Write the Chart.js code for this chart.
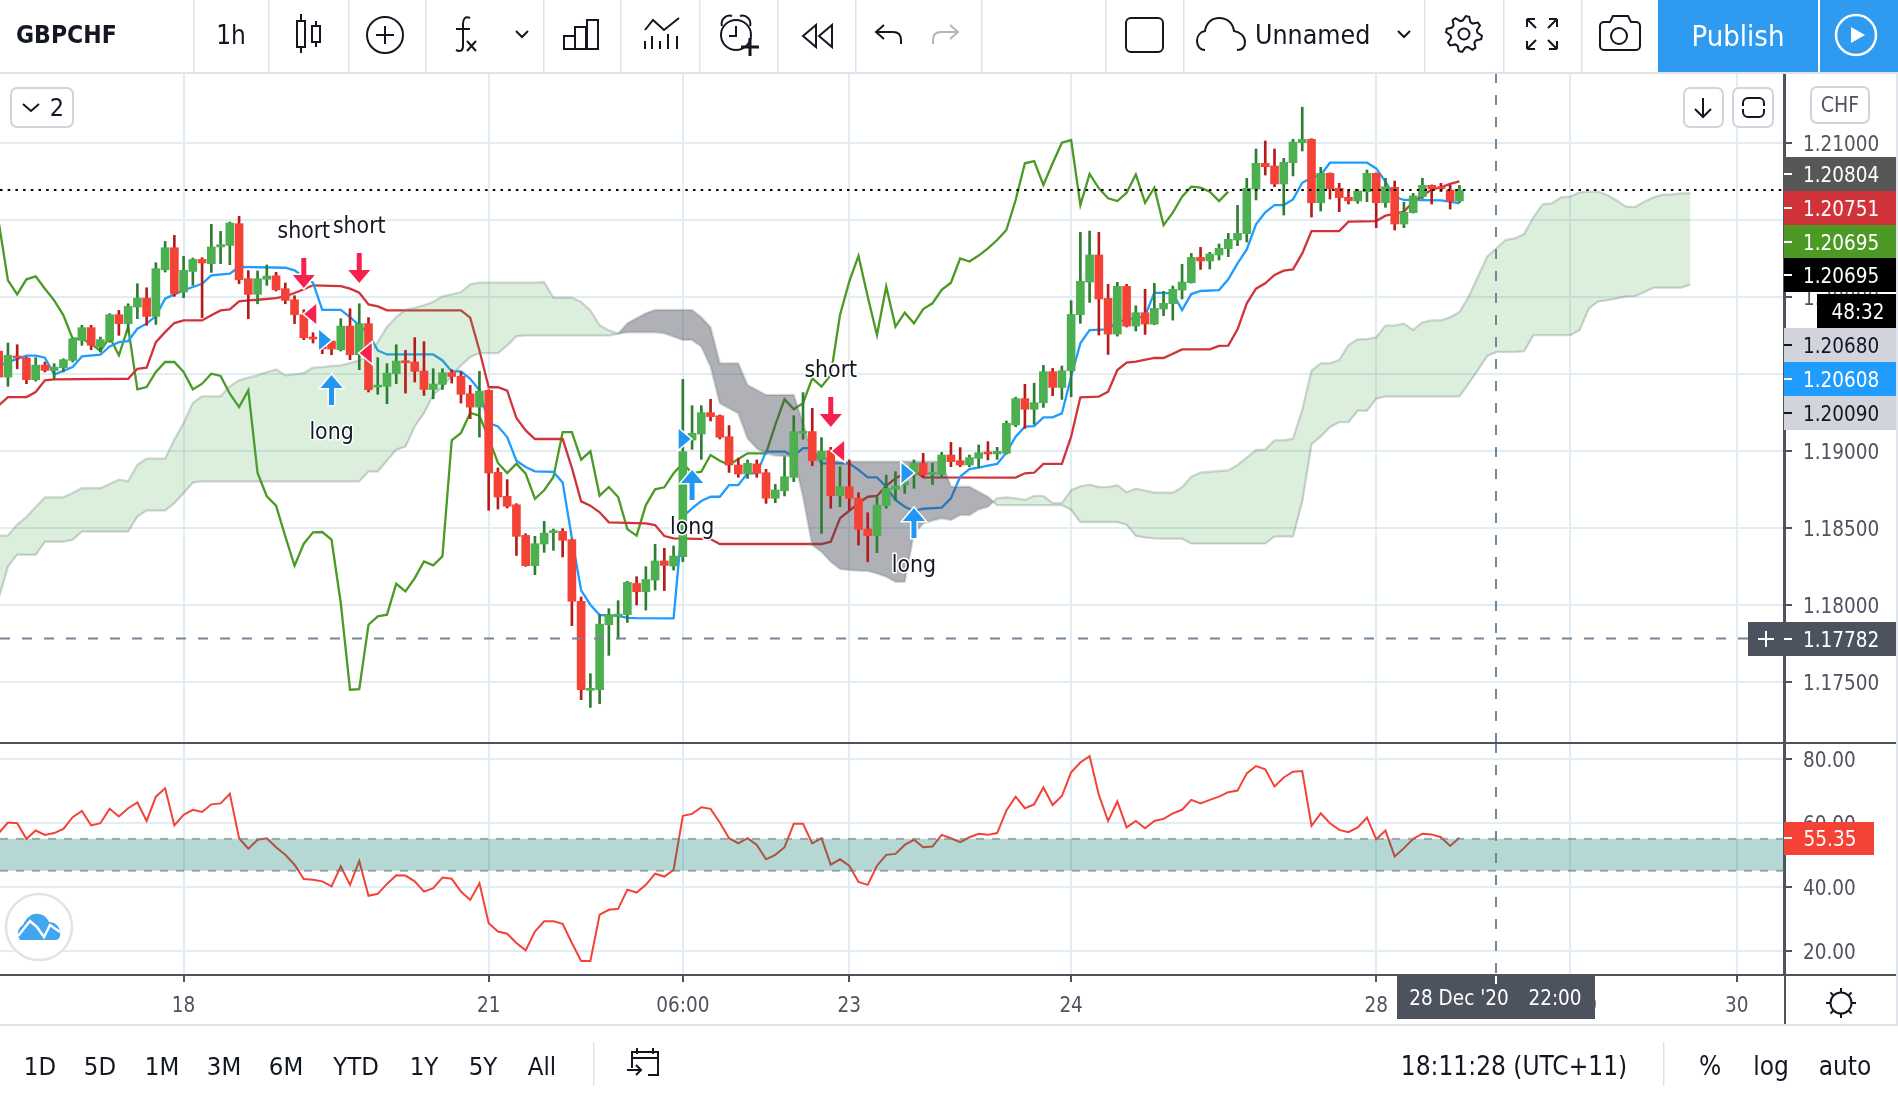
<!DOCTYPE html>
<html>
<head>
<meta charset="utf-8">
<title>GBPCHF</title>
<script src="https://cdn.jsdelivr.net/npm/chart.js@4/dist/chart.umd.js"></script>
<style>
  html, body { margin: 0; background: #fff; overflow: hidden; }
  canvas { position: absolute; left: 0; }
  #priceChart { top: 73px; }
  #rsiChart { top: 743px; }
  #overlay { position: absolute; left: 0; top: 0; pointer-events: none; font-family: "DejaVu Sans Condensed", "DejaVu Sans", sans-serif; }
</style>
</head>
<body>
<canvas id="priceChart" width="1898" height="670"></canvas>
<canvas id="rsiChart" width="1898" height="281"></canvas>
<svg id="overlay" width="1898" height="1100" xmlns="http://www.w3.org/2000/svg"></svg>
<script>
//setup - one hourly candle per bar index, i = 0 is the first bar on the left
const opens = [
  1.19649,1.19480,1.19614,1.19604,1.19463,1.19558,1.19523,1.19541,1.19588,1.19718,
  1.19801,1.19675,1.19718,1.19885,1.19827,1.19935,1.19993,1.19874,1.20177,1.20320,
  1.20032,1.20166,1.20244,1.20216,1.20325,1.20335,1.20476,1.20119,1.20017,1.20115,
  1.20138,1.20054,1.19982,1.19885,1.19740,1.19707,1.19714,1.19658,1.19811,1.19625,
  1.19827,1.19415,1.19420,1.19502,1.19584,1.19578,1.19519,1.19400,1.19433,1.19508,
  1.19486,1.19372,1.19285,1.19394,1.18861,1.18706,1.18651,1.18452,1.18255,1.18396,
  1.18470,1.18478,1.18424,1.18024,1.17446,1.17450,1.17872,1.17926,1.17937,1.18140,
  1.18086,1.18162,1.18286,1.18253,1.18314,1.19071,1.19110,1.19249,1.19229,1.19093,
  1.18909,1.18851,1.18916,1.18859,1.18693,1.18742,1.18829,1.19115,1.19126,1.18942,
  1.19002,1.18710,1.18768,1.18693,1.18493,1.18450,1.18645,1.18751,1.18779,1.18844,
  1.18920,1.18848,1.18848,1.18974,1.18937,1.18909,1.18952,1.18991,1.18981,1.18985,
  1.19169,1.19340,1.19271,1.19313,1.19515,1.19413,1.19521,1.19885,1.20097,1.20273,
  1.19991,1.19759,1.20069,1.19811,1.19898,1.19824,1.19922,1.19957,1.20045,1.20093,
  1.20257,1.20234,1.20273,1.20314,1.20370,1.20411,1.20701,1.20868,1.20851,1.20734,
  1.20872,1.21002,1.21024,1.20612,1.20803,1.20706,1.20647,1.20623,1.20684,1.20803,
  1.20612,1.20712,1.20474,1.20548,1.20651,1.20725,1.20712,1.20695,1.20623
];
const highs = [
  1.19697,1.19701,1.19690,1.19610,1.19606,1.19578,1.19567,1.19599,1.19733,1.19816,
  1.19816,1.19740,1.19892,1.19913,1.19956,1.20086,1.20060,1.20223,1.20361,1.20400,
  1.20264,1.20253,1.20255,1.20472,1.20426,1.20487,1.20524,1.20171,1.20169,1.20208,
  1.20160,1.20091,1.20008,1.19917,1.19768,1.19729,1.19723,1.19859,1.19924,1.19956,
  1.19866,1.19606,1.19567,1.19690,1.19653,1.19736,1.19710,1.19534,1.19534,1.19528,
  1.19513,1.19426,1.19517,1.19398,1.18890,1.18814,1.18658,1.18463,1.18446,1.18543,
  1.18493,1.18496,1.18428,1.18052,1.17554,1.17937,1.17976,1.18028,1.18153,1.18184,
  1.18249,1.18394,1.18368,1.18383,1.19465,1.19294,1.19294,1.19336,1.19234,1.19165,
  1.18952,1.18942,1.18942,1.18881,1.18783,1.18963,1.19229,1.19379,1.19277,1.19087,
  1.19024,1.18898,1.18942,1.18729,1.18599,1.18703,1.18844,1.18866,1.18877,1.18942,
  1.18985,1.18920,1.18991,1.19056,1.19022,1.18974,1.19039,1.19061,1.19024,1.19195,
  1.19349,1.19433,1.19440,1.19556,1.19536,1.19552,1.19976,1.20420,1.20428,1.20420,
  1.20082,1.20095,1.20082,1.19943,1.20050,1.20089,1.20037,1.20071,1.20212,1.20283,
  1.20322,1.20290,1.20344,1.20413,1.20595,1.20771,1.20961,1.21013,1.20961,1.20900,
  1.21024,1.21232,1.21028,1.20842,1.20806,1.20738,1.20690,1.20699,1.20825,1.20806,
  1.20771,1.20753,1.20615,1.20673,1.20771,1.20728,1.20738,1.20725,1.20725
];
const lows = [
  1.19469,1.19420,1.19534,1.19437,1.19454,1.19513,1.19469,1.19513,1.19578,1.19686,
  1.19658,1.19643,1.19707,1.19751,1.19772,1.19859,1.19816,1.19822,1.20162,1.20004,
  1.19995,1.20076,1.19866,1.20160,1.20216,1.20210,1.20086,1.19859,1.19956,1.20076,
  1.20039,1.19956,1.19827,1.19723,1.19701,1.19632,1.19625,1.19649,1.19593,1.19528,
  1.19383,1.19368,1.19307,1.19437,1.19376,1.19448,1.19361,1.19339,1.19400,1.19441,
  1.19311,1.19210,1.19090,1.18615,1.18623,1.18630,1.18322,1.18251,1.18197,1.18342,
  1.18355,1.18312,1.17866,1.17385,1.17335,1.17359,1.17673,1.17779,1.17887,1.18000,
  1.17967,1.18097,1.18093,1.18227,1.18281,1.19011,1.18946,1.19195,1.19078,1.18861,
  1.18829,1.18822,1.18829,1.18660,1.18664,1.18708,1.18801,1.19076,1.18905,1.18465,
  1.18628,1.18638,1.18617,1.18389,1.18281,1.18340,1.18628,1.18682,1.18725,1.18758,
  1.18829,1.18783,1.18829,1.18898,1.18898,1.18898,1.18894,1.18942,1.18946,1.18980,
  1.19158,1.19147,1.19173,1.19283,1.19359,1.19335,1.19352,1.19829,1.19965,1.19753,
  1.19627,1.19746,1.19805,1.19779,1.19757,1.19820,1.19879,1.19850,1.19987,1.20090,
  1.20179,1.20182,1.20240,1.20262,1.20333,1.20357,1.20630,1.20792,1.20716,1.20532,
  1.20786,1.20948,1.20519,1.20558,1.20636,1.20554,1.20604,1.20608,1.20619,1.20450,
  1.20582,1.20435,1.20450,1.20545,1.20640,1.20604,1.20684,1.20571,1.20612
];
const closes = [
  1.19480,1.19621,1.19604,1.19463,1.19558,1.19523,1.19545,1.19593,1.19729,1.19801,
  1.19686,1.19723,1.19885,1.19827,1.19939,1.19993,1.19874,1.20184,1.20320,1.20021,
  1.20173,1.20244,1.20221,1.20325,1.20340,1.20480,1.20112,1.20017,1.20119,1.20136,
  1.20047,1.19978,1.19885,1.19736,1.19727,1.19664,1.19662,1.19811,1.19625,1.19827,
  1.19398,1.19426,1.19506,1.19584,1.19573,1.19517,1.19400,1.19435,1.19508,1.19484,
  1.19368,1.19285,1.19389,1.18857,1.18701,1.18641,1.18446,1.18255,1.18398,1.18467,
  1.18478,1.18420,1.18024,1.17450,1.17459,1.17876,1.17937,1.17941,1.18147,1.18086,
  1.18166,1.18286,1.18257,1.18318,1.18996,1.19115,1.19249,1.19223,1.19089,1.18909,
  1.18851,1.18920,1.18855,1.18693,1.18747,1.18833,1.19126,1.19126,1.18937,1.19000,
  1.18710,1.18768,1.18693,1.18491,1.18450,1.18649,1.18758,1.18773,1.18801,1.18920,
  1.18844,1.18859,1.18974,1.18931,1.18909,1.18957,1.18989,1.18981,1.18998,1.19180,
  1.19340,1.19271,1.19314,1.19515,1.19413,1.19521,1.19887,1.20102,1.20273,1.19987,
  1.19759,1.20069,1.19811,1.19898,1.19824,1.19926,1.19959,1.20050,1.20097,1.20257,
  1.20234,1.20279,1.20316,1.20374,1.20413,1.20706,1.20868,1.20846,1.20734,1.20874,
  1.21006,1.21024,1.20612,1.20803,1.20703,1.20645,1.20625,1.20688,1.20803,1.20612,
  1.20716,1.20474,1.20550,1.20656,1.20725,1.20703,1.20703,1.20623,1.20695
];

// conversion line, corners only
const conversionBars = [0,3,4,5,6,8,9,11,12,13,14,15,16,17,18,19,20,21,22,23,25,26,31,32,33,34,35,37,38,39,40,41,42,47,48,49,50,51,52,53,54,55,56,57,58,60,61,62,63,64,65,67,68,69,73,74,75,76,77,78,79,80,81,82,83,85,86,87,88,89,92,93,94,95,96,97,98,99,100,102,103,104,105,106,107,108,109,110,111,112,113,114,115,116,117,118,120,121,124,125,127,128,129,130,132,133,134,135,136,137,138,139,140,141,142,143,144,148,149,150,151,152,156,157,158];
const conversionLine = [1.19556,1.19619,1.19619,1.19606,1.19497,1.19545,1.19614,1.19625,1.19679,1.19707,1.19714,1.19794,1.19827,1.19876,1.19989,1.20017,1.20043,1.20065,1.20086,1.20140,1.20151,1.20195,1.20190,1.20173,1.20130,1.20093,1.19917,1.19917,1.19870,1.19816,1.19762,1.19653,1.19627,1.19627,1.19588,1.19517,1.19517,1.19469,1.19394,1.19182,1.19160,1.19091,1.18937,1.18896,1.18868,1.18864,1.18796,1.18435,1.18095,1.18002,1.17935,1.17930,1.17917,1.17915,1.17913,1.18573,1.18628,1.18675,1.18703,1.18703,1.18779,1.18779,1.18855,1.18855,1.18996,1.18996,1.18968,1.19019,1.19019,1.18920,1.18920,1.18877,1.18829,1.18829,1.18768,1.18682,1.18638,1.18612,1.18625,1.18632,1.18693,1.18833,1.18883,1.18892,1.18905,1.18916,1.18989,1.19093,1.19158,1.19162,1.19218,1.19218,1.19244,1.19482,1.19699,1.19785,1.19790,1.19840,1.19876,1.20028,1.20024,1.19915,1.20019,1.20039,1.20045,1.20115,1.20218,1.20309,1.20472,1.20550,1.20597,1.20597,1.20634,1.20742,1.20775,1.20792,1.20872,1.20872,1.20835,1.20749,1.20651,1.20630,1.20628,1.20619,1.20608];

// base line, corners only
const baseBars = [0,1,3,4,5,6,14,15,16,17,18,19,20,22,23,24,25,26,27,28,30,31,32,33,34,37,38,39,40,41,42,50,51,52,53,54,55,56,57,58,61,62,63,64,65,66,70,71,72,73,77,78,89,90,91,92,93,94,95,96,97,98,99,100,110,111,112,113,115,116,117,119,120,121,122,123,125,126,128,131,132,133,134,135,136,137,138,139,140,141,142,145,146,149,150,151,152,153,154,155,156,157,158];
const baseLine = [1.19296,1.19350,1.19350,1.19383,1.19459,1.19465,1.19469,1.19534,1.19541,1.19707,1.19772,1.19831,1.19848,1.19848,1.19881,1.19913,1.19920,1.19972,1.19978,1.19982,1.19993,1.20004,1.20026,1.20050,1.20076,1.20071,1.20054,1.20028,1.19952,1.19939,1.19913,1.19913,1.19866,1.19653,1.19414,1.19414,1.19392,1.19214,1.19134,1.19078,1.19078,1.18890,1.18673,1.18645,1.18602,1.18537,1.18530,1.18519,1.18448,1.18433,1.18428,1.18396,1.18396,1.18411,1.18563,1.18612,1.18660,1.18703,1.18708,1.18773,1.18822,1.18855,1.18877,1.18829,1.18827,1.18855,1.18859,1.18916,1.18916,1.19093,1.19349,1.19353,1.19385,1.19526,1.19574,1.19580,1.19604,1.19604,1.19660,1.19660,1.19682,1.19684,1.19790,1.19959,1.20054,1.20089,1.20143,1.20171,1.20179,1.20283,1.20428,1.20428,1.20489,1.20493,1.20528,1.20539,1.20554,1.20619,1.20656,1.20699,1.20712,1.20734,1.20751];

// lagging line, bars 0 to 133
const laggingLine = [
  1.20487,1.20108,1.20017,1.20115,1.20134,1.20054,1.19978,1.19881,1.19729,1.19729,
  1.19697,1.19649,1.19740,1.19621,1.19805,1.19400,1.19415,1.19513,1.19578,1.19578,
  1.19513,1.19400,1.19437,1.19502,1.19487,1.19372,1.19285,1.19394,1.18857,1.18706,
  1.18645,1.18446,1.18255,1.18398,1.18472,1.18474,1.18424,1.18013,1.17450,1.17454,
  1.17872,1.17926,1.17937,1.18138,1.18089,1.18175,1.18283,1.18257,1.18316,1.19069,
  1.19117,1.19247,1.19229,1.19084,1.18922,1.18857,1.18918,1.18853,1.18690,1.18745,
  1.18831,1.19123,1.19123,1.18944,1.18998,1.18710,1.18766,1.18701,1.18493,1.18450,
  1.18649,1.18751,1.18764,1.18855,1.18920,1.18855,1.18866,1.18974,1.18937,1.18909,
  1.18948,1.18985,1.18985,1.18985,1.19169,1.19336,1.19271,1.19310,1.19472,1.19418,
  1.19494,1.19883,1.20100,1.20267,1.20002,1.19753,1.20067,1.19808,1.19898,1.19829,
  1.19922,1.19959,1.20046,1.20093,1.20251,1.20230,1.20269,1.20316,1.20370,1.20435,
  1.20630,1.20868,1.20883,1.20727,1.20868,1.21002,1.21019,1.20597,1.20799,1.20706,
  1.20641,1.20623,1.20677,1.20796,1.20612,1.20710,1.20467,1.20548,1.20651,1.20716,
  1.20710,1.20684,1.20623,1.20684
];

// leading spans, bars 0 to 183
const spanA = [
  1.18450,1.18450,1.18522,1.18571,1.18636,1.18699,1.18699,1.18699,1.18727,1.18758,
  1.18758,1.18758,1.18786,1.18814,1.18803,1.18911,1.18950,1.18950,1.18950,1.19074,
  1.19182,1.19312,1.19355,1.19355,1.19355,1.19420,1.19459,1.19476,1.19491,1.19513,
  1.19530,1.19491,1.19497,1.19506,1.19541,1.19545,1.19552,1.19556,1.19571,1.19588,
  1.19621,1.19707,1.19805,1.19870,1.19917,1.19930,1.19946,1.19967,1.20004,1.20017,
  1.20032,1.20082,1.20093,1.20093,1.20093,1.20093,1.20093,1.20093,1.20093,1.20097,
  1.19995,1.19995,1.19995,1.19967,1.19913,1.19816,1.19783,1.19762,1.19771,1.19771,
  1.19771,1.19771,1.19764,1.19743,1.19721,1.19721,1.19678,1.19548,1.19310,1.19277,
  1.19245,1.19082,1.19017,1.18985,1.18970,1.18968,1.18963,1.18703,1.18389,1.18346,
  1.18281,1.18234,1.18227,1.18223,1.18221,1.18205,1.18184,1.18151,1.18151,1.18465,
  1.18530,1.18548,1.18563,1.18552,1.18584,1.18584,1.18621,1.18638,1.18693,1.18699,
  1.18693,1.18682,1.18708,1.18708,1.18662,1.18662,1.18745,1.18771,1.18781,1.18766,
  1.18766,1.18777,1.18732,1.18755,1.18742,1.18729,1.18729,1.18729,1.18764,1.18833,
  1.18859,1.18864,1.18870,1.18874,1.18909,1.18957,1.19006,1.19009,1.19069,1.19069,
  1.19080,1.19266,1.19521,1.19569,1.19569,1.19591,1.19688,1.19725,1.19727,1.19738,
  1.19814,1.19814,1.19827,1.19786,1.19835,1.19848,1.19848,1.19868,1.19902,1.20002,
  1.20132,1.20262,1.20316,1.20370,1.20381,1.20409,1.20517,1.20602,1.20608,1.20647,
  1.20652,1.20680,1.20684,1.20684,1.20662,1.20626,1.20587,1.20584,1.20619,1.20647,
  1.20665,1.20665,1.20673,1.20673
];
const spanB = [
  1.18045,1.18251,1.18327,1.18327,1.18327,1.18411,1.18411,1.18411,1.18424,1.18478,
  1.18478,1.18478,1.18478,1.18478,1.18478,1.18576,1.18615,1.18615,1.18615,1.18662,
  1.18727,1.18796,1.18803,1.18803,1.18803,1.18803,1.18803,1.18803,1.18803,1.18803,
  1.18803,1.18803,1.18803,1.18803,1.18803,1.18803,1.18803,1.18803,1.18803,1.18803,
  1.18868,1.18868,1.18939,1.19009,1.19030,1.19160,1.19247,1.19366,1.19415,1.19491,
  1.19556,1.19610,1.19636,1.19636,1.19636,1.19686,1.19746,1.19751,1.19751,1.19751,
  1.19751,1.19751,1.19751,1.19751,1.19751,1.19751,1.19751,1.19762,1.19829,1.19862,
  1.19894,1.19916,1.19916,1.19916,1.19916,1.19916,1.19868,1.19803,1.19569,1.19569,
  1.19569,1.19429,1.19396,1.19364,1.19364,1.19364,1.19364,1.19180,1.18985,1.18963,
  1.18942,1.18931,1.18931,1.18931,1.18931,1.18931,1.18931,1.18931,1.18931,1.18931,
  1.18931,1.18931,1.18931,1.18768,1.18768,1.18768,1.18736,1.18703,1.18649,1.18649,
  1.18649,1.18649,1.18649,1.18649,1.18649,1.18649,1.18619,1.18539,1.18539,1.18539,
  1.18539,1.18539,1.18522,1.18450,1.18439,1.18433,1.18431,1.18431,1.18431,1.18400,
  1.18400,1.18400,1.18400,1.18400,1.18400,1.18400,1.18400,1.18400,1.18446,1.18446,
  1.18446,1.18673,1.19045,1.19095,1.19156,1.19188,1.19188,1.19262,1.19262,1.19340,
  1.19355,1.19355,1.19355,1.19355,1.19355,1.19355,1.19355,1.19355,1.19355,1.19439,
  1.19526,1.19617,1.19643,1.19643,1.19643,1.19649,1.19753,1.19753,1.19753,1.19753,
  1.19753,1.19786,1.19926,1.19972,1.19980,1.19991,1.20004,1.20006,1.20032,1.20061,
  1.20061,1.20061,1.20061,1.20082
];

// relative strength, bars 0 to 158
const rsiValues = [
  56.8,60.1,59.9,55.0,57.6,56.25,56.8,58.1,61.8,63.75,
  59.2,59.9,64.4,62.0,64.6,66.4,60.6,68.2,70.8,59.2,
  62.5,64.1,63.4,65.8,66.1,69.1,55.2,51.9,54.7,55.2,
  52.4,50.0,46.9,42.4,42.2,41.7,40.1,46.4,40.6,48.1,
  37.2,37.8,40.9,43.6,43.5,41.7,38.5,39.6,42.9,42.5,
  38.5,35.9,41.1,28.6,26.0,25.3,22.4,20.1,26.0,29.2,
  29.2,28.4,22.4,16.8,16.8,31.25,32.8,33.1,39.1,38.2,
  40.6,44.1,43.2,45.3,62.2,62.8,64.9,64.4,60.1,55.2,
  53.6,55.2,53.1,48.6,50.0,52.4,59.7,59.7,53.6,55.2,
  46.9,48.6,46.6,41.5,40.6,46.6,50.0,50.3,53.1,54.7,
  52.4,52.6,56.25,55.2,54.0,55.5,56.6,56.25,56.8,63.9,
  68.2,64.6,65.8,71.1,65.6,68.4,75.8,78.9,80.9,68.75,
  60.6,66.7,58.6,60.6,58.3,60.6,61.25,63.0,64.1,67.2,
  66.1,67.2,68.2,69.6,70.1,75.5,77.8,76.8,71.4,74.2,
  76.0,76.2,59.1,63.0,59.9,57.8,57.1,58.6,61.7,54.9,
  57.6,49.5,52.1,55.0,56.6,56.4,55.5,52.8,55.35
];

// axis ticks
const priceTicks = [1.21, 1.205, 1.2, 1.195, 1.19, 1.185, 1.18, 1.175];
const rsiTicks = [80, 60, 40, 20];
const timeTickBars = [20, 53, 74, 92, 116, 149, 170, 188];
const timeTickLabels = ['18', '21', '06:00', '23', '24', '28', '06:00', '30'];

// signals: bar, price of the arrow tip
const shortBars = [33, 39, 90];
const shortPrices = [1.20058, 1.20091, 1.19156];
const longBars = [36, 75, 99];
const longPrices = [1.19494, 1.18877, 1.18630];
// entry triangles: bar, price
const sellBars = [33.7, 39.7, 90.8];
const sellPrices = [1.19890, 1.19636, 1.19000];
const buyBars = [35.3, 74.2, 98.3];
const buyPrices = [1.19721, 1.19078, 1.18857];

// price tags on the right edge
const tagLabels = ['1.20804', '1.20751', '1.20695', '1.20695', '1.20680', '1.20608', '1.20090'];
const tagFills = ['#575757', '#d0343a', '#4c9a23', '#000000', '#d1d4dc', '#209cff', '#d1d4dc'];
const tagInks = ['#fff', '#fff', '#fff', '#fff', '#131722', '#fff', '#131722'];
const tagTops = [157, 191, 225, 258, 328, 362, 396];

const crossBar = 162;
const crossPrice = 1.17782;
const xMin = 0.14, xMax = 193.11;
const rangeButtons = ['1D', '5D', '1M', '3M', '6M', 'YTD', '1Y', '5Y', 'All'];
const rangeCenters = [40, 100, 162, 224, 286, 356, 424, 483, 542];

const FONT = '"DejaVu Sans Condensed", "DejaVu Sans", sans-serif';
const GRID = '#e2ecf3';
const AXIS = '#50535e';
const UP = '#4caf50', DOWN = '#f44336', UP_WICK = '#2e7d32', DOWN_WICK = '#b71c1c';

const bars = opens.map((o, i) => i);
const zip = (xs, ys) => ys.map((y, i) => ({ x: xs[i], y }));
const isUp = i => closes[i] >= opens[i];

function lineSet(label, data, color, extra) {
  return Object.assign({ label, data, borderColor: color, borderWidth: 2.3, pointRadius: 0, tension: 0, fill: false, order: 5 }, extra);
}

// arrows, triangles and their captions, placed through the chart scales
const signalMarks = {
  id: 'signalMarks',
  afterDatasetsDraw(chart) {
    const { ctx, scales: { x, y } } = chart;

    function arrow(bar, price, dir, fill, text, gap) {
      const px = x.getPixelForValue(bar), py = y.getPixelForValue(price);
      ctx.save();
      ctx.beginPath();
      ctx.moveTo(px, py);
      ctx.lineTo(px - 11, py + dir * 13);
      ctx.lineTo(px - 2.5, py + dir * 13);
      ctx.lineTo(px - 2.5, py + dir * 30);
      ctx.lineTo(px + 2.5, py + dir * 30);
      ctx.lineTo(px + 2.5, py + dir * 13);
      ctx.lineTo(px + 11, py + dir * 13);
      ctx.closePath();
      ctx.lineWidth = 3;
      ctx.strokeStyle = '#fff';
      ctx.stroke();
      ctx.fillStyle = fill;
      ctx.fill();
      ctx.font = '22.8px ' + FONT;
      ctx.textAlign = 'center';
      ctx.textBaseline = 'middle';
      ctx.lineWidth = 3;
      ctx.lineJoin = 'round';
      ctx.strokeText(text, px, py + dir * gap);
      ctx.fillStyle = '#131722';
      ctx.fillText(text, px, py + dir * gap);
      ctx.restore();
    }

    function triangle(bar, price, dir, fill) {
      const px = x.getPixelForValue(bar), py = y.getPixelForValue(price);
      ctx.save();
      ctx.beginPath();
      ctx.moveTo(px + dir * 6, py);
      ctx.lineTo(px - dir * 6, py - 10);
      ctx.lineTo(px - dir * 6, py + 10);
      ctx.closePath();
      ctx.lineWidth = 3;
      ctx.strokeStyle = '#fff';
      ctx.stroke();
      ctx.fillStyle = fill;
      ctx.fill();
      ctx.restore();
    }

    sellBars.forEach((b, i) => triangle(b, sellPrices[i], -1, '#f7214e'));
    buyBars.forEach((b, i) => triangle(b, buyPrices[i], 1, '#2196f3'));
    shortBars.forEach((b, i) => arrow(b, shortPrices[i], -1, '#f7214e', 'short', 56));
    longBars.forEach((b, i) => arrow(b, longPrices[i], 1, '#2196f3', 'long', 58));
  }
};

// vertical crosshair, shared by both panes
const crossLine = {
  id: 'crossLine',
  afterDatasetsDraw(chart) {
    const { ctx, chartArea, scales: { x } } = chart;
    const px = Math.round(x.getPixelForValue(crossBar));
    ctx.save();
    ctx.strokeStyle = '#758696';
    ctx.lineWidth = 2;
    ctx.setLineDash([10, 12]);
    ctx.beginPath();
    ctx.moveTo(px, chartArea.top);
    ctx.lineTo(px, chartArea.bottom);
    ctx.stroke();
    ctx.restore();
  }
};

Chart.defaults.font.family = FONT;

function timeScale(showLabels) {
  return {
    type: 'linear', min: xMin, max: xMax, offset: false,
    afterBuildTicks: s => { s.ticks = timeTickBars.map(value => ({ value })); },
    afterFit: s => { s.height = showLabels ? 49 : 0; s.paddingLeft = 0; s.paddingRight = 0; },
    grid: { color: GRID, lineWidth: 2, offset: false, drawTicks: showLabels, tickLength: 7, tickColor: AXIS, tickWidth: 2 },
    border: { display: showLabels, color: AXIS, width: 2 },
    ticks: {
      display: showLabels, autoSkip: false, maxRotation: 0, padding: 12, color: AXIS,
      font: { size: 20.5 },
      callback: v => timeTickLabels[timeTickBars.indexOf(v)]
    }
  };
}

function valueScale(min, max, ticks, digits) {
  return {
    position: 'right', min, max,
    afterBuildTicks: s => { s.ticks = ticks.map(value => ({ value })); },
    afterFit: s => { s.width = 114; s.paddingTop = 0; s.paddingBottom = 0; },
    grid: { color: GRID, lineWidth: 2, tickLength: 8, tickColor: AXIS, tickWidth: 2 },
    border: { color: AXIS, width: 2 },
    ticks: { autoSkip: false, padding: 11, labelOffset: 3, color: AXIS, font: { size: 20.5 }, callback: v => v.toFixed(digits) }
  };
}

const baseOptions = {
  responsive: false,
  animation: false,
  devicePixelRatio: 1,
  events: [],
  layout: { padding: 0 },
  plugins: { legend: { display: false }, tooltip: { enabled: false } }
};

//main pane
new Chart(document.getElementById('priceChart'), {
  type: 'line',
  data: {
    datasets: [
      { type: 'bar', label: 'bodies', data: bars.map(i => ({ x: i, y: [opens[i], closes[i]] })),
        backgroundColor: bars.map(i => isUp(i) ? UP : DOWN), barThickness: 8, minBarLength: 2, grouped: false, order: 1 },
      { type: 'bar', label: 'wicks', data: bars.map(i => ({ x: i, y: [lows[i], highs[i]] })),
        backgroundColor: bars.map(i => isUp(i) ? UP_WICK : DOWN_WICK), barThickness: 2, grouped: false, order: 2 },
      lineSet('span a', zip(Array.from(spanA.keys()), spanA), 'rgba(120,130,130,0.32)', {
        fill: { target: '+1', above: 'rgba(76,175,80,0.2)', below: 'rgba(67,70,81,0.42)' }, order: 3 }),
      lineSet('span b', zip(Array.from(spanB.keys()), spanB), 'rgba(120,130,130,0.32)', { order: 3 }),
      lineSet('conversion', zip(conversionBars, conversionLine), '#209cff'),
      lineSet('base', zip(baseBars, baseLine), '#d0343a'),
      lineSet('lagging', zip(Array.from(laggingLine.keys()), laggingLine), '#4a9a24'),
      lineSet('last', zip([xMin, xMax], [closes[158], closes[158]]), '#000', { borderWidth: 2, borderDash: [2.5, 5.2], order: 0 }),
      lineSet('cross', zip([xMin, xMax], [crossPrice, crossPrice]), '#758696', { borderWidth: 2, borderDash: [10, 12], order: 0 })
    ]
  },
  options: Object.assign({}, baseOptions, {
    scales: { x: timeScale(false), y: valueScale(1.171039, 1.214545, priceTicks, 5) }
  }),
  plugins: [crossLine, signalMarks]
});

//lower pane
new Chart(document.getElementById('rsiChart'), {
  type: 'line',
  data: {
    datasets: [
      lineSet('upper', zip([xMin, xMax], [55, 55]), 'rgba(120,123,134,0.6)', {
        borderWidth: 2, borderDash: [8, 8], fill: { target: '+1', above: 'rgba(0,121,107,0.29)', below: 'rgba(0,121,107,0.29)' }, order: 1 }),
      lineSet('lower', zip([xMin, xMax], [45, 45]), 'rgba(120,123,134,0.6)', { borderWidth: 2, borderDash: [8, 8], order: 1 }),
      lineSet('rsi', zip(bars, rsiValues), DOWN, { borderWidth: 2, order: 2 })
    ]
  },
  options: Object.assign({}, baseOptions, {
    scales: { x: timeScale(true), y: valueScale(12.39, 85, rsiTicks, 2) }
  }),
  plugins: [crossLine]
});

//toolbars, tags and buttons on top of the canvases
function gearPath(cx, cy, r1, r2, teeth) {
  let d = '';
  for (let t = 0; t < teeth * 4; t++) {
    const a = (t + 0.5) / (teeth * 4) * Math.PI * 2;
    const r = t % 4 < 2 ? r2 : r1;
    d += (t ? 'L' : 'M') + (cx + r * Math.cos(a)).toFixed(1) + ' ' + (cy + r * Math.sin(a)).toFixed(1);
  }
  return d + 'Z';
}

function label(text, x, y, size, color, anchor, weight) {
  return `<text x="${x}" y="${y}" font-size="${size}" fill="${color}" text-anchor="${anchor || 'middle'}" dominant-baseline="central"${weight ? ` font-weight="${weight}"` : ''}>${text}</text>`;
}

const LIGHT = '#e0e3eb', INK = '#131722';
const topSeps = [193, 268, 348, 425, 543, 620, 699, 777, 855, 981, 1105, 1183, 1424, 1503, 1581];
const sunTicks = [0, 1, 2, 3, 4, 5, 6, 7].map(k => {
  const a = k * Math.PI / 4;
  return `M${(1841 + 11 * Math.cos(a)).toFixed(1)} ${(1003 + 11 * Math.sin(a)).toFixed(1)}L${(1841 + 15 * Math.cos(a)).toFixed(1)} ${(1003 + 15 * Math.sin(a)).toFixed(1)}`;
}).join('');

let svg = '';
// frame lines
svg += `<rect x="0" y="72" width="1898" height="2" fill="${LIGHT}"/>`;
svg += `<rect x="0" y="1024" width="1898" height="2" fill="${LIGHT}"/>`;
svg += `<rect x="1896" y="74" width="2" height="950" fill="${LIGHT}"/>`;
svg += `<rect x="0" y="742" width="1896" height="2" fill="${AXIS}"/>`;
svg += `<rect x="1784" y="74" width="2" height="950" fill="${AXIS}"/>`;
svg += `<rect x="0" y="974" width="1896" height="2" fill="${AXIS}"/>`;
topSeps.forEach(x => { svg += `<rect x="${x}" y="0" width="1.5" height="72" fill="${LIGHT}"/>`; });

// top toolbar
svg += label('GBPCHF', 16, 34, 24.5, INK, 'start', 600);
svg += label('1h', 231, 35, 26, INK);
svg += `<g fill="none" stroke="${INK}" stroke-width="2">
  <path d="M301 14V21M301 47V53M316 21V26M316 42V47"/><rect x="297" y="21" width="8" height="26"/><rect x="312" y="26" width="8" height="16"/>
  <circle cx="385" cy="35" r="18"/><path d="M385 26V44M376 35H394"/>
  <path d="M470 18c-5-2-7 1-7 6v22c0 5-3 6-7 4M456 29H470M467 41l9 10M476 41l-9 10"/>
  <path d="M516 31l6 6 6-6"/>
  <rect x="564" y="36" width="11" height="13"/><rect x="575" y="27" width="11" height="22"/><rect x="587" y="20" width="11" height="29"/>
  <path d="M645 30L653 20L664 30L679 18M645 49V41M652 49V36M660 49V41M668 49V34M677 49V36"/>
  <circle cx="736" cy="35" r="15"/><path d="M736 26V36H729M722 26a8 8 0 0 1 10-10M750 26a8 8 0 0 0-10-10"/>
  <path d="M750 38V56M741 47H759" stroke-width="3"/>
  <path d="M816 25L803 36L816 47ZM832 25L819 36L832 47Z"/>
  <path d="M884 25l-8 7 8 7M876 32H893c5 0 8 3 8 8v4"/>
  <path d="M950 25l8 7-8 7M958 32H941c-5 0-8 3-8 8v4" stroke="#b2b5be"/>
  <rect x="1126" y="18" width="37" height="34" rx="5"/>
  <path d="M1205 50c-5 0-8-4-8-9 0-5 3-9 8-10 1-8 7-13 14-13 8 0 14 5 15 13 6 1 11 5 11 11 0 5-3 8-8 8"/>
  <path d="M1398 31l6 6 6-6"/>
  <path d="${gearPath(1464, 34, 13.5, 18, 8)}"/><circle cx="1464" cy="34" r="5.5"/>
  <path d="M1527 19h8M1527 19v8M1527 19l9 9M1557 19h-8M1557 19v8M1557 19l-9 9M1527 49h8M1527 49v-8M1527 49l9-9M1557 49h-8M1557 49v-8M1557 49l-9-9"/>
  <path d="M1604 22h6l3-6h15l3 6h5a4 4 0 0 1 4 4v20a4 4 0 0 1-4 4h-32a4 4 0 0 1-4-4v-20a4 4 0 0 1 4-4Z"/><circle cx="1619" cy="36" r="8"/>
</g>`;
svg += label('Unnamed', 1255, 34, 26.5, INK, 'start');
svg += `<rect x="1658" y="0" width="160" height="72" fill="#2f9bf0"/><rect x="1820" y="0" width="78" height="72" fill="#2f9bf0"/>`;
svg += label('Publish', 1738, 36, 29, '#fff');
svg += `<circle cx="1856" cy="35" r="20" fill="none" stroke="#fff" stroke-width="2.5"/><path d="M1851 27L1865 35L1851 43Z" fill="#fff"/>`;

// buttons inside the main pane
const boxStroke = '#d1d4dc';
svg += `<rect x="11" y="88" width="62" height="39" rx="6" fill="#fff" stroke="${boxStroke}" stroke-width="2"/>`;
svg += `<path d="M23 104l8 7 8-7" fill="none" stroke="${INK}" stroke-width="2"/>`;
svg += label('2', 57, 107, 25, INK);
svg += `<rect x="1684" y="88" width="39" height="39" rx="6" fill="#fff" stroke="${boxStroke}" stroke-width="2"/>`;
svg += `<path d="M1703 98V117M1695 109l8 8 8-8" fill="none" stroke="${INK}" stroke-width="2"/>`;
svg += `<rect x="1733" y="88" width="40" height="39" rx="6" fill="#fff" stroke="${boxStroke}" stroke-width="2"/>`;
svg += `<path d="M1743 106v-3a5 5 0 0 1 5-5h11a5 5 0 0 1 5 5v3M1743 109v3a5 5 0 0 0 5 5h11a5 5 0 0 0 5-5v-3" fill="none" stroke="${INK}" stroke-width="2"/>`;
svg += `<rect x="1811" y="87" width="58" height="36" rx="6" fill="#fff" stroke="${boxStroke}" stroke-width="2"/>`;
svg += label('CHF', 1840, 105, 21, AXIS);

// price tags
tagLabels.forEach((t, i) => {
  svg += `<rect x="1784" y="${tagTops[i]}" width="112" height="34" fill="${tagFills[i]}"/>`;
  svg += `<rect x="1784" y="${tagTops[i] + 16}" width="8" height="2" fill="${tagInks[i]}"/>`;
  svg += label(t, 1803, tagTops[i] + 18, 20.5, tagInks[i], 'start');
});
svg += `<rect x="1817" y="294" width="79" height="34" fill="#000"/>`;
svg += label('48:32', 1858, 312, 20.5, '#fff');
svg += `<rect x="1748" y="622" width="36" height="34" fill="#4c525e"/><path d="M1766 631V647M1758 639H1774" stroke="#fff" stroke-width="2"/>`;
svg += `<rect x="1784" y="622" width="112" height="34" fill="#4c525e"/><rect x="1784" y="638" width="8" height="2" fill="#fff"/>`;
svg += label('1.17782', 1803, 640, 20.5, '#fff', 'start');

// lower pane tag, date box, corner logo
svg += `<rect x="1784" y="822" width="90" height="33" fill="#f44336"/><rect x="1784" y="837" width="8" height="2" fill="#fff"/>`;
svg += label('55.35', 1830, 839, 20.5, '#fff');
svg += `<rect x="1397" y="976" width="198" height="43" fill="#4c525e"/>`;
svg += `<rect x="1495" y="976" width="2" height="8" fill="#fff"/>`;
svg += label("28 Dec '20", 1459, 998, 20.5, '#fff');
svg += label('22:00', 1555, 998, 20.5, '#fff');
svg += `<circle cx="39" cy="927" r="33" fill="#fff" stroke="#e3e3e3" stroke-width="2.5"/>`;
svg += `<path d="M20 940c-4-6-2-12 3-15 3-7 9-12 15-11 6 0 9 4 11 8 6 0 10 4 11 9 1 5-1 9-4 9Z" fill="#42a5f0"/>`;
svg += `<path d="M18 936L30 921L37 927L44 937L50 925L60 932" fill="none" stroke="#fff" stroke-width="2.5"/>`;
svg += `<circle cx="1841" cy="1003" r="10.5" fill="none" stroke="${INK}" stroke-width="2"/><path d="${sunTicks}" stroke="${INK}" stroke-width="2"/>`;

// bottom bar
rangeButtons.forEach((t, i) => { svg += label(t, rangeCenters[i], 1066, 25.5, INK); });
svg += `<rect x="593" y="1042" width="1.5" height="44" fill="${LIGHT}"/><rect x="1663" y="1042" width="1.5" height="44" fill="${LIGHT}"/>`;
svg += `<path d="M632 1068V1052H658V1075H648M632 1058H658M637 1048V1054M653 1048V1054M627 1070H641M636 1065l5 5-5 5" fill="none" stroke="${INK}" stroke-width="2"/>`;
svg += label('18:11:28 (UTC+11)', 1514, 1066, 26, INK);
svg += label('%', 1710, 1066, 26, INK);
svg += label('log', 1771, 1066, 26, INK);
svg += label('auto', 1845, 1066, 26, INK);

document.getElementById('overlay').innerHTML = svg;
</script>
</body>
</html>
